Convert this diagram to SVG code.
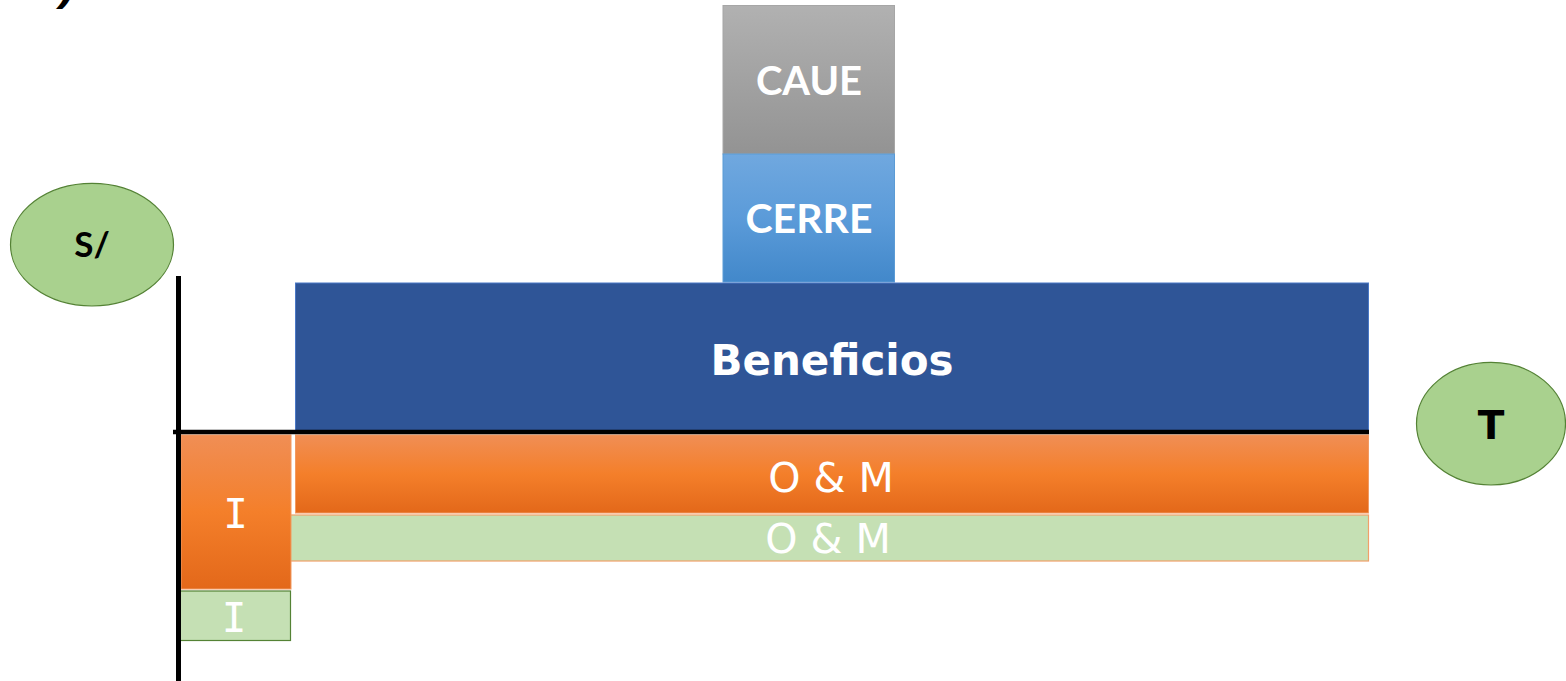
<svg xmlns="http://www.w3.org/2000/svg" width="1566" height="681" viewBox="0 0 1566 681">
<defs>
<linearGradient id="gGray" x1="0" y1="0" x2="0" y2="1"><stop offset="0" stop-color="#b1b1b1"/><stop offset="1" stop-color="#939393"/></linearGradient>
<linearGradient id="gBlue" x1="0" y1="0" x2="0" y2="1"><stop offset="0" stop-color="#70a8df"/><stop offset="0.5" stop-color="#5b9bd9"/><stop offset="1" stop-color="#4288ca"/></linearGradient>
<linearGradient id="gOrange" x1="0" y1="0" x2="0" y2="1"><stop offset="0" stop-color="#f08e55"/><stop offset="0.5" stop-color="#f47f2a"/><stop offset="1" stop-color="#e3681a"/></linearGradient>
</defs>
<style>
.cal{font-family:Lato,"Open Sans","Liberation Sans",sans-serif;font-weight:bold;text-anchor:middle}
.ver{font-family:"DejaVu Sans","Liberation Sans",sans-serif;text-anchor:middle}
.mono{font-family:"DejaVu Sans Mono","Liberation Mono",monospace;text-anchor:middle}
.wt{fill:#ffffff}
.ell{fill:#a9d18e;stroke:#548235;stroke-width:1.2}
.axis{stroke:#000000;fill:none}
</style>
<text x="60" y="-1" style="font-family:'Liberation Sans',sans-serif;font-weight:bold;font-style:italic;font-size:46px">)</text>
<g id="caue"><rect x="723" y="5.5" width="171.5" height="148.5" fill="url(#gGray)" stroke="#a6a6a6" stroke-width="1"/><text class="cal wt" x="809" y="95" font-size="40">CAUE</text></g>
<g id="cerre"><rect x="723" y="154" width="171.5" height="128" fill="url(#gBlue)" stroke="#5b9bd5" stroke-width="1"/><text class="cal wt" x="809" y="233" font-size="41">CERRE</text></g>
<g id="beneficios"><rect x="295.5" y="283" width="1073" height="148" fill="#2f5597" stroke="#4a78c6" stroke-width="1"/><text class="ver wt" x="832" y="375" font-size="42" font-weight="bold">Beneficios</text></g>
<g id="om-orange"><rect x="295.5" y="435" width="1073" height="78" fill="url(#gOrange)" stroke="#f19a63" stroke-width="1"/><text class="ver wt" x="831" y="492" font-size="41">O &amp; M</text></g>
<g id="om-green"><rect x="287.5" y="515" width="1081" height="46" fill="#c5e0b4" stroke="#f0a06a" stroke-width="1.2"/><text class="ver wt" x="828" y="553" font-size="41">O &amp; M</text></g>
<g id="i-orange"><rect x="181" y="435" width="110" height="154" fill="url(#gOrange)" stroke="#f19a63" stroke-width="1"/><text class="mono wt" x="235.5" y="528" font-size="41">I</text></g>
<g id="i-green"><rect x="177.5" y="591" width="113" height="49.5" fill="#c5e0b4" stroke="#548235" stroke-width="1.2"/><text class="mono wt" x="234" y="632" font-size="41">I</text></g>
<g id="connectors">
<line class="axis" x1="173" y1="432" x2="1369" y2="432" stroke-width="4.5"/>
<line class="axis" x1="178.5" y1="276" x2="178.5" y2="681" stroke-width="5"/>
</g>
<g id="s"><ellipse class="ell" cx="92" cy="244.7" rx="81.5" ry="61.3"/><text class="cal" x="92" y="257" font-size="35" fill="#000">S/</text></g>
<g id="t"><ellipse class="ell" cx="1491" cy="423.7" rx="74.5" ry="61.3"/><text class="ver" x="1491" y="439" font-size="39" font-weight="bold" fill="#000">T</text></g>
</svg>
